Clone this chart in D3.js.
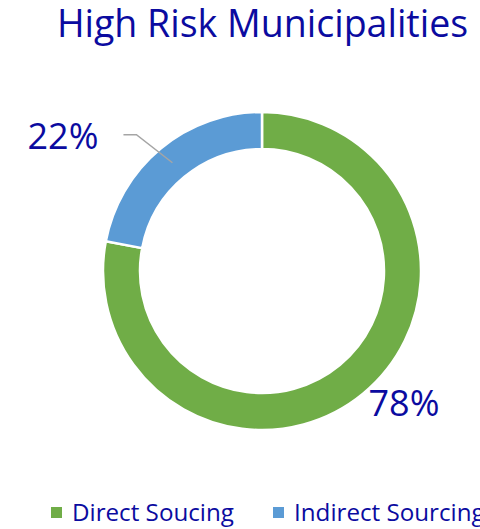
<!DOCTYPE html>
<html>
<head>
<meta charset="utf-8">
<script src="https://cdn.jsdelivr.net/npm/d3@7"></script>
<style>
  body { margin: 0; background: #fff; }
  svg text { font-family: "Open Sans", "Noto Sans", sans-serif; fill: #0b0ba0; }
</style>
</head>
<body>
<div id="chart"></div>
<script>
var title = 'High Risk Municipalities';
var categories = ['Direct Soucing', 'Indirect Sourcing'];
var values = [78, 22];
var colors = ['#70ad47', '#5b9bd5'];

var width = 480,
    height = 529,
    cx = 262,
    cy = 271,
    outer_r = 159,
    inner_r = 122;

var svg = d3.select('#chart').append('svg')
    .attr('width', width)
    .attr('height', height);

// title
svg.append('text')
    .attr('x', 262.5)
    .attr('y', 37)
    .attr('text-anchor', 'middle')
    .attr('font-size', 37.5)
    .text(title);

var data = categories.map(function(c, i) {
    return { name: c, value: values[i], color: colors[i] };
});

var pie = d3.pie().sort(null).value(function(d) { return d.value; });
var arc = d3.arc().innerRadius(inner_r).outerRadius(outer_r);
var total = d3.sum(values);

var g = svg.append('g').attr('transform', 'translate(' + cx + ',' + cy + ')');
var slices = pie(data);

g.selectAll('path.slice')
    .data(slices)
    .enter().append('path')
    .attr('class', 'slice')
    .attr('d', arc)
    .attr('fill', function(d) { return d.data.color; })
    .attr('stroke', '#fff')
    .attr('stroke-width', 2.5);

// labels
var pct = function(d) { return Math.round(d.value / total * 100) + '%'; };

// large slice: label sits outside, no leader
var big = slices[0];
var big_mid = (big.startAngle + big.endAngle) / 2 - 0.13;
g.append('text')
    .attr('x', Math.sin(big_mid) * 194)
    .attr('y', -Math.cos(big_mid) * 194 + 13)
    .attr('text-anchor', 'middle')
    .attr('font-size', 36)
    .text(pct(big.data));

// small slice: leader line from centroid
var small = slices[1];
var c = arc.centroid(small);
var elbow = [c[0] - 36, c[1] - 28];
var end = [elbow[0] - 13, elbow[1]];
g.append('polyline')
    .attr('points', [c, elbow, end].map(function(p) { return p.join(','); }).join(' '))
    .attr('fill', 'none')
    .attr('stroke', '#a5a5a5')
    .attr('stroke-width', 1.5);
g.append('text')
    .attr('x', end[0] - 25)
    .attr('y', end[1] + 14)
    .attr('text-anchor', 'end')
    .attr('font-size', 36)
    .text(pct(small.data));

// legend
var legend_x = d3.scalePoint().domain(categories).range([51, 273]);
var legend = svg.append('g').selectAll('g')
    .data(data)
    .enter().append('g')
    .attr('transform', function(d) { return 'translate(' + legend_x(d.name) + ',507)'; });
legend.append('rect')
    .attr('width', 11)
    .attr('height', 11)
    .attr('fill', function(d) { return d.color; });
legend.append('text')
    .attr('x', 21)
    .attr('y', 14)
    .attr('font-size', 24.2)
    .text(function(d) { return d.name; });
</script>
</body>
</html>
